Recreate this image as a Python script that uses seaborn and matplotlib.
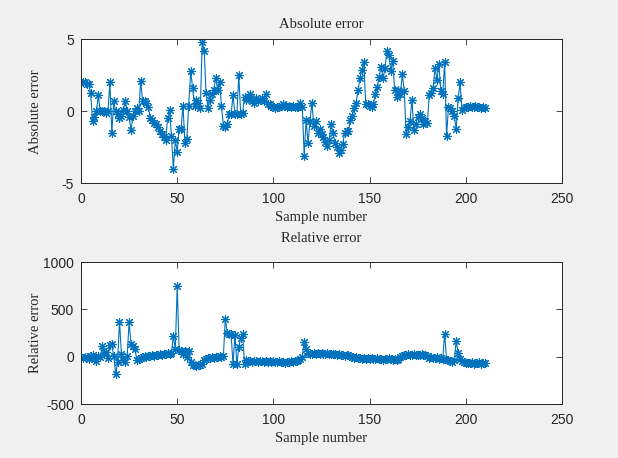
import numpy as np
import pandas as pd
import matplotlib
matplotlib.use("Agg")
import matplotlib.pyplot as plt
import seaborn as sns

# absolute error, samples 1..210
abs_err = [2.0, 2.0, 1.9, 1.9, 1.3, -0.7, -0.4, 0.0, 1.1, 0.0,
           0.0, 0.0, -0.1, 0.0, 2.0, -1.5, 0.7, 0.0, -0.2, -0.5,
           -0.3, 0.1, 0.7, 0.0, -0.4, -1.3, -0.3, 0.0, 0.2, 0.0,
           2.1, 0.7, 0.7, 0.6, 0.3, -0.5, -0.6, -0.8, -0.9, -1.1,
           -1.4, -1.6, -1.8, -2.0, -0.5, 0.1, -1.7, -4.0, -2.0, -2.8,
           -1.2, -1.2, 0.4, -2.2, -1.9, 0.4, 2.8, 1.6, 0.4, 0.8,
           0.6, 0.2, 4.8, 4.2, 1.3, 0.2, 0.8, 1.2, 1.5, 2.3,
           1.5, 2.0, 0.4, -1.0, -1.1, -0.9, -0.2, -0.2, 1.1, -0.2,
           -0.2, 2.5, -0.2, -0.1, 1.0, 0.8, 0.9, 1.2, 0.7, 0.6,
           0.9, 0.7, 0.8, 0.9, 0.7, 1.2, 0.5, 0.5, 0.4, 0.3,
           0.2, 0.3, 0.3, 0.4, 0.5, 0.4, 0.3, 0.4, 0.3, 0.4,
           0.3, 0.3, 0.3, 0.6, 0.3, -3.1, -0.6, -2.2, -0.7, 0.6,
           -1.0, -0.7, -1.5, -1.2, -1.6, -1.8, -2.1, -2.4, -2.0, -0.9,
           -1.5, -2.2, -2.5, -2.9, -2.7, -2.3, -1.5, -1.4, -1.4, -0.6,
           -0.3, 0.2, 0.6, 1.5, 2.3, 2.9, 3.4, 0.5, 0.5, 0.4,
           0.3, 0.5, 1.2, 1.7, 2.4, 3.1, 2.3, 3.0, 4.2, 3.9,
           2.8, 3.5, 1.5, 1.0, 1.5, 1.2, 2.6, 1.4, -1.6, -1.1,
           -0.7, 0.8, -1.3, -0.9, -0.4, -0.2, -0.5, -0.9, -0.7, -0.8,
           1.1, 1.3, 1.6, 3.0, 2.2, 3.3, 1.4, 1.2, 3.4, -1.7,
           0.3, 0.2, 0.0, -0.3, -1.2, 0.9, 2.0, 0.1, 0.2, 0.3,
           0.3, 0.4, 0.3, 0.3, 0.4, 0.3, 0.3, 0.2, 0.3, 0.2]

# relative error, samples 1..210
rel_err = [-10, -5, 0, -20, 10, 20, -10, -50, 10, 0,
           110, 30, 50, -10, 120, 130, 10, -180, -60, 370,
           30, -30, -60, 10, 370, 130, 110, 80, -30, -20,
           -10, 0, 5, 0, 10, 5, 15, 10, 20, 15,
           25, 20, 30, 25, 35, 30, 40, 220, 80, 750,
           70, 60, 30, 60, 0, 60, -60, -90, -90, -100,
           -90, -90, -80, -30, -20, -10, -15, -5, -10, 0,
           -5, 5, 0, 10, 400, 250, 240, 240, -80, 230,
           -80, 100, 200, 240, -80, -40, -50, -45, -55, -50,
           -45, -55, -50, -45, -60, -50, -55, -45, -60, -50,
           -55, -60, -50, -60, -55, -65, -55, -60, -50, -55,
           -45, -50, -30, -20, 0, 160, 80, 40, 30, 25,
           35, 30, 40, 30, 35, 25, 30, 35, 30, 30,
           25, 30, 20, 25, 15, 20, 10, 20, 15, 10,
           0, -10, -5, -15, -10, -20, -15, -20, -10, -20,
           -15, -25, -20, -15, -25, -20, -30, -20, -25, -15,
           -20, -30, -25, -30, -20, 0, 10, 20, 15, 25,
           20, 15, 25, 20, 15, 20, 25, 15, 20, 10,
           -10, 0, -10, -15, -5, -20, -15, -20, 240, -30,
           -40, -50, -60, -40, 170, 40, -20, -50, -60, -70,
           -65, -70, -60, -75, -65, -70, -60, -75, -65, -70]

x_ticks = [0, 50, 100, 150, 200, 250]
abs_yticks = [-5, 0, 5]
rel_yticks = [-500, 0, 500, 1000]

df = pd.DataFrame({"sample": np.arange(1, len(abs_err) + 1),
                   "abs": abs_err, "rel": rel_err})

sns.set_theme(style="ticks")
plt.rcParams["font.family"] = ["Liberation Sans", "DejaVu Sans"]
plt.rcParams["axes.unicode_minus"] = False

blue = "#0072BD"
serif = ["Liberation Serif", "DejaVu Serif"]

fig = plt.figure(figsize=(6.18, 4.58), dpi=100, facecolor="#f0f0f0")
ax1 = fig.add_axes([0.1311, 0.5998, 0.7783, 0.3144])
ax2 = fig.add_axes([0.1311, 0.1179, 0.7783, 0.3100])

panels = [(ax1, "abs", "Absolute error", (-5, 5), abs_yticks, 8),
          (ax2, "rel", "Relative error", (-500, 1000), rel_yticks, 14.5)]

for ax, col, name, ylim, yt, tpad in panels:
    sns.lineplot(data=df, x="sample", y=col, ax=ax, color=blue, linewidth=0.8,
                 marker=(8, 2, 0), markersize=6.5, markeredgewidth=0.8,
                 markeredgecolor=blue)
    ax.set_xlim(0, 250)
    ax.set_ylim(*ylim)
    ax.set_xticks(x_ticks)
    ax.set_yticks(yt)
    ax.set_facecolor("white")
    ax.tick_params(direction="in", top=True, right=True, length=4,
                   width=0.6, labelsize=10, colors="#262626")
    ax.tick_params(axis="x", pad=6.5)
    ax.tick_params(axis="y", pad=5)
    for s in ax.spines.values():
        s.set_color("#262626")
        s.set_linewidth(0.7)
    ax.set_title(name, family=serif, fontsize=10.5, pad=tpad)
    ax.set_xlabel("Sample number", family=serif, fontsize=10.5, labelpad=3.5)
    ax.set_ylabel(name, family=serif, fontsize=10.5)
    ax.yaxis.set_label_coords(-0.081, 0.5)

fig.savefig("out.png", dpi=100, facecolor=fig.get_facecolor())
